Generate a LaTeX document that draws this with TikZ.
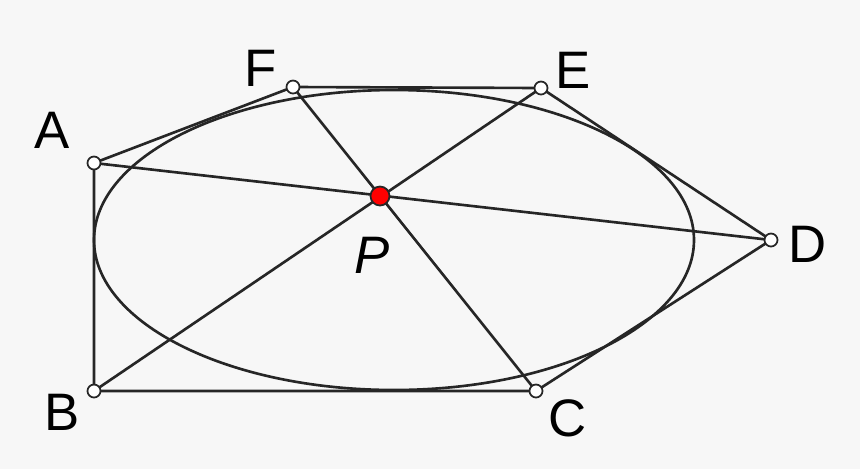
\documentclass[tikz,border=0pt]{standalone}
\usepackage{fontspec}
\setmainfont{Liberation Sans}
\begin{document}
\begin{tikzpicture}[x=0.01cm,y=-0.01cm,
  ln/.style={line width=0.75pt,draw=black!85},
  pt/.style={circle,draw=black!85,fill=white,line width=0.5pt,inner sep=0pt,minimum size=0.13cm},
  lab/.style={font=\fontsize{15}{18}\selectfont}]
\fill[black!3] (0,0) rectangle (860,469);
\useasboundingbox (0,0) rectangle (860,469);
\draw[ln] (394,240) ellipse [x radius=300, y radius=150];
\coordinate (A) at (94,163);
\coordinate (B) at (94,391);
\coordinate (C) at (536,391);
\coordinate (D) at (771,240);
\coordinate (E) at (541,88);
\coordinate (F) at (293,87);
\coordinate (P) at (380,196);
\draw[ln] (A)--(B)--(C)--(D)--(E)--(F)--cycle;
\draw[ln] (A)--(D) (B)--(E) (C)--(F);
\foreach \p in {A,B,C,D,E,F} \node[pt] at (\p) {};
\node[circle,fill=red,draw=black!85,line width=0.5pt,inner sep=0pt,minimum size=0.19cm] at (P) {};
\node[lab] (lA) at (52,130) {A};
\node[lab] (lB) at (62,412) {B};
\node[lab] (lC) at (568,418) {C};
\node[lab] (lD) at (808,244) {D};
\node[lab] (lE) at (573,70) {E};
\node[lab] (lF) at (261,68) {F};
\node[lab] (lP) at (372,255) {\itshape P};
\end{tikzpicture}
\end{document}
